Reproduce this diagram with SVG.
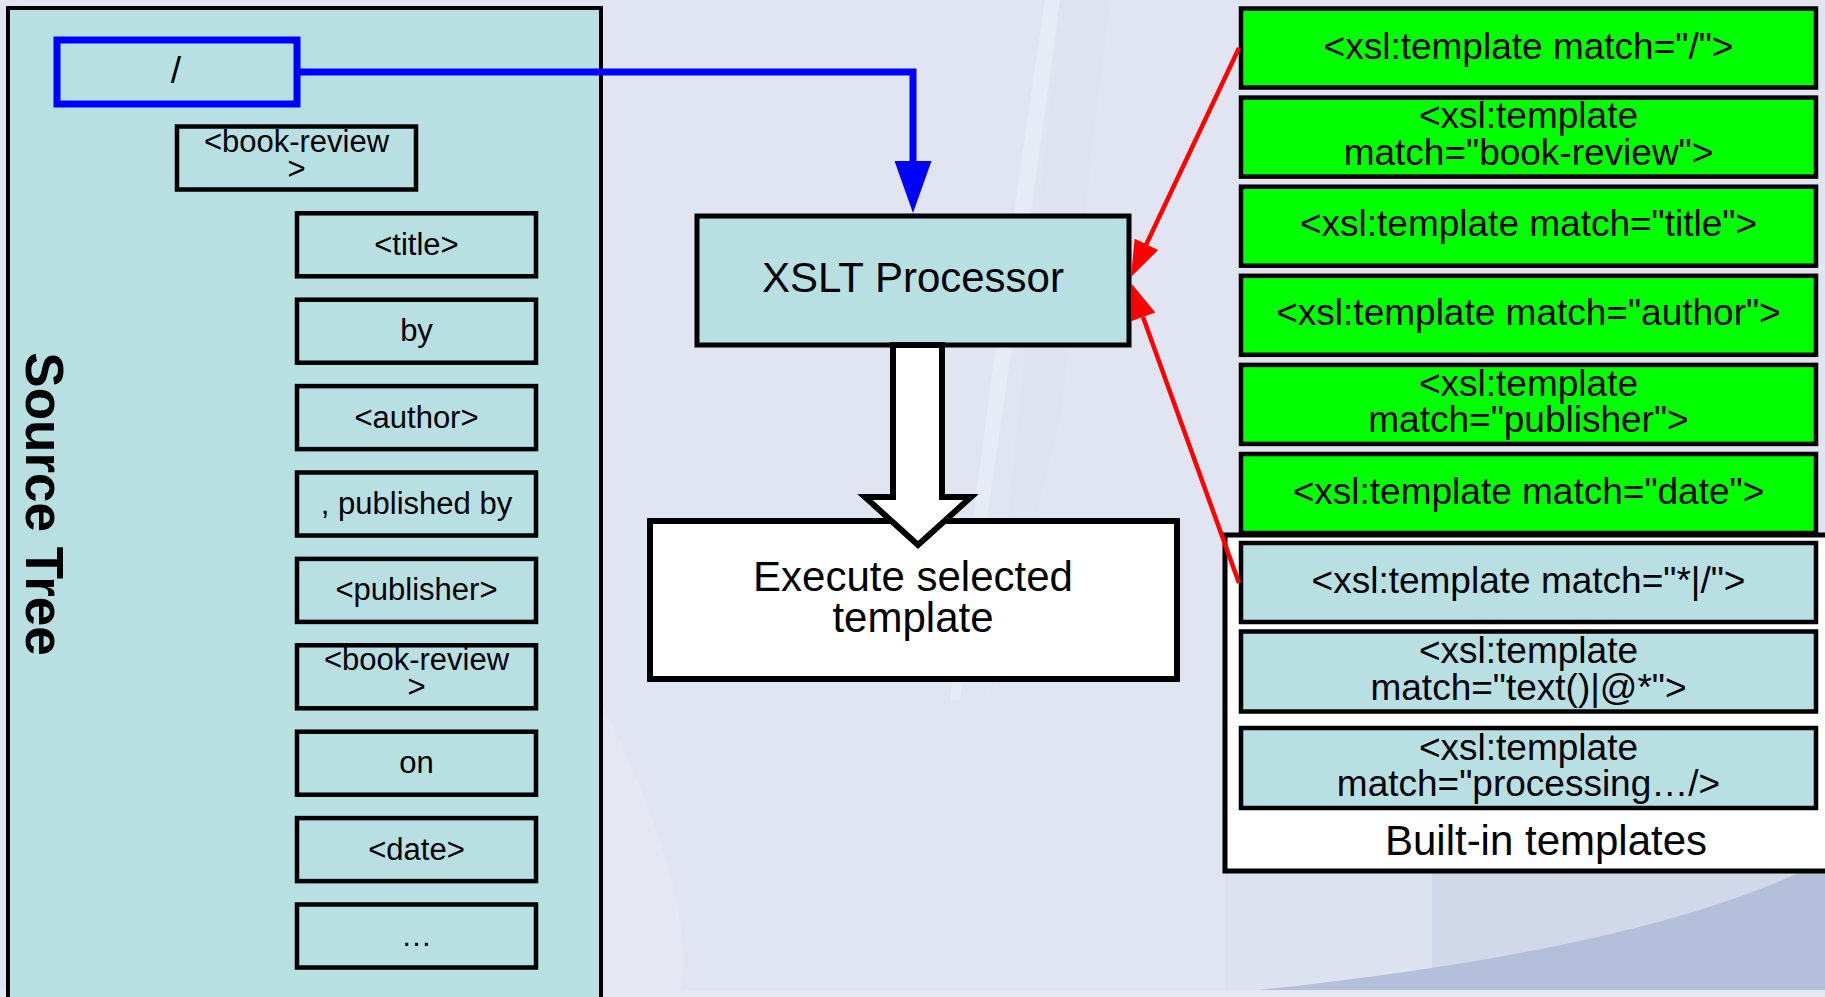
<svg xmlns="http://www.w3.org/2000/svg" width="1825" height="997" viewBox="0 0 1825 997">
<style>
  text { font-family: "Liberation Sans", Arial, sans-serif; fill: #000; }
  .src { fill: #b8dfe2; stroke: #000; stroke-width: 4.5; }
  .grn { fill: #00ff00; stroke: #000; stroke-width: 4.5; }
  .bi { fill: #b8dfe2; stroke: #000; stroke-width: 4.5; }
  .t31 { font-size: 31px; text-anchor: middle; }
  .t37 { font-size: 37px; text-anchor: middle; }
  .t42 { font-size: 42px; text-anchor: middle; }
  .red { stroke: #ff0000; stroke-width: 4.5; fill: none; }
  .redh { fill: #ff0000; }
</style>
<!-- background -->
<g id="background">
  <rect x="0" y="0" width="1825" height="997" fill="#e1e5f1"/>
  <path d="M 1045 0 L 1060 0 Q 1020 300 960 700 L 950 700 Q 1000 300 1045 0 Z" fill="#e9ecf6" opacity="0.8"/>
  <path d="M 1060 0 L 1110 0 L 1060 420 L 990 700 Z" fill="#dce1ef" opacity="0.6"/>
  <path d="M 600 700 Q 700 900 680 997 L 600 997 Z" fill="#e6e9f4" opacity="0.8"/>
  <rect x="1225" y="871" width="207" height="119" fill="#dde2f0"/>
  <rect x="1432" y="871" width="393" height="119" fill="#d1d8ea"/>
  <path d="M 1240 992 C 1500 965 1700 925 1825 860 L 1825 992 Z" fill="#b4bfdb"/>
  <rect x="0" y="990" width="1825" height="7" fill="#e5e8f3"/>
</g>

<!-- source tree panel -->
<g id="source-tree">
  <rect x="8" y="8" width="593" height="1010" fill="#b8dfe2" stroke="#000" stroke-width="4"/>
  <text transform="translate(26,504) rotate(90)" text-anchor="middle" font-size="53" font-weight="bold">Source Tree</text>
</g>

<g id="node-root">
  <rect x="57" y="40" width="240" height="64" fill="#b8dfe2" stroke="#0000ff" stroke-width="7"/>
  <text class="t37" x="176" y="83">/</text>
</g>
<g id="node-book-review-1">
  <rect class="src" x="177" y="126.5" width="239" height="63"/>
  <text class="t31" x="296.5" y="152">&lt;book-review</text>
  <text class="t31" x="296.5" y="179">&gt;</text>
</g>
<g id="node-title">
  <rect class="src" x="297" y="213.3" width="239" height="63"/>
  <text class="t31" x="416.5" y="255">&lt;title&gt;</text>
</g>
<g id="node-by">
  <rect class="src" x="297" y="299.7" width="239" height="63"/>
  <text class="t31" x="416.5" y="341">by</text>
</g>
<g id="node-author">
  <rect class="src" x="297" y="386.1" width="239" height="63"/>
  <text class="t31" x="416.5" y="428">&lt;author&gt;</text>
</g>
<g id="node-published-by">
  <rect class="src" x="297" y="472.5" width="239" height="63"/>
  <text class="t31" x="416.5" y="514">, published by</text>
</g>
<g id="node-publisher">
  <rect class="src" x="297" y="558.9" width="239" height="63"/>
  <text class="t31" x="416.5" y="600">&lt;publisher&gt;</text>
</g>
<g id="node-book-review-2">
  <rect class="src" x="297" y="645.3" width="239" height="63"/>
  <text class="t31" x="416.5" y="670">&lt;book-review</text>
  <text class="t31" x="416.5" y="697">&gt;</text>
</g>
<g id="node-on">
  <rect class="src" x="297" y="731.7" width="239" height="63"/>
  <text class="t31" x="416.5" y="773">on</text>
</g>
<g id="node-date">
  <rect class="src" x="297" y="818.1" width="239" height="63"/>
  <text class="t31" x="416.5" y="860">&lt;date&gt;</text>
</g>
<g id="node-more">
  <rect class="src" x="297" y="904.5" width="239" height="63"/>
  <text class="t31" x="416.5" y="946">…</text>
</g>

<!-- XSLT processor -->
<g id="node-xslt">
  <rect x="697" y="216" width="432" height="129" fill="#b8dfe2" stroke="#000" stroke-width="5"/>
  <text class="t42" x="913" y="292">XSLT Processor</text>
</g>

<!-- Execute selected template -->
<g id="node-execute">
  <rect x="650" y="521" width="527" height="158" fill="#ffffff" stroke="#000" stroke-width="6"/>
  <text class="t42" x="913" y="591">Execute selected</text>
  <text class="t42" x="913" y="632">template</text>
</g>

<!-- built-in container -->
<g id="builtin-container">
  <rect x="1225" y="535" width="700" height="336" fill="#ffffff" stroke="#000" stroke-width="5"/>
  <text class="t42" x="1546" y="855">Built-in templates</text>
</g>

<!-- templates -->
<g id="tpl-root">
  <rect class="grn" x="1241" y="8.5" width="575" height="79"/>
  <text class="t37" x="1528.5" y="59">&lt;xsl:template match="/"&gt;</text>
</g>
<g id="tpl-book-review">
  <rect class="grn" x="1241" y="97.6" width="575" height="79"/>
  <text class="t37" x="1528.5" y="128">&lt;xsl:template</text>
  <text class="t37" x="1528.5" y="165">match="book-review"&gt;</text>
</g>
<g id="tpl-title">
  <rect class="grn" x="1241" y="186.7" width="575" height="79"/>
  <text class="t37" x="1528.5" y="236">&lt;xsl:template match="title"&gt;</text>
</g>
<g id="tpl-author">
  <rect class="grn" x="1241" y="275.8" width="575" height="79"/>
  <text class="t37" x="1528.5" y="325">&lt;xsl:template match="author"&gt;</text>
</g>
<g id="tpl-publisher">
  <rect class="grn" x="1241" y="364.9" width="575" height="79"/>
  <text class="t37" x="1528.5" y="396">&lt;xsl:template</text>
  <text class="t37" x="1528.5" y="432">match="publisher"&gt;</text>
</g>
<g id="tpl-date">
  <rect class="grn" x="1241" y="454" width="575" height="79"/>
  <text class="t37" x="1528.5" y="504">&lt;xsl:template match="date"&gt;</text>
</g>
<g id="tpl-builtin-1">
  <rect class="bi" x="1241" y="543" width="575" height="79"/>
  <text class="t37" x="1528.5" y="593">&lt;xsl:template match="*|/"&gt;</text>
</g>
<g id="tpl-builtin-2">
  <rect class="bi" x="1241" y="631.5" width="575" height="80"/>
  <text class="t37" x="1528.5" y="663">&lt;xsl:template</text>
  <text class="t37" x="1528.5" y="700">match="text()|@*"&gt;</text>
</g>
<g id="tpl-builtin-3">
  <rect class="bi" x="1241" y="728" width="575" height="80"/>
  <text class="t37" x="1528.5" y="760">&lt;xsl:template</text>
  <text class="t37" x="1528.5" y="796">match="processing…/&gt;</text>
</g>

<!-- connectors -->
<g id="connectors">
  <path d="M 300 72 H 913 V 165" fill="none" stroke="#0000ff" stroke-width="7"/>
  <polygon points="894.5,161 931.5,161 913,213" fill="#0000ff"/>
  <polygon points="893,345 942,345 942,497 971,497 918,545 865,497 893,497" fill="#ffffff" stroke="#000" stroke-width="6" stroke-linejoin="miter"/>
  <line class="red" x1="1239" y1="48" x2="1146" y2="245"/>
  <polygon class="redh" points="1131,277 1134.6,238.8 1158.2,250"/>
  <line class="red" x1="1239" y1="583" x2="1143" y2="317"/>
  <polygon class="redh" points="1131,283 1131,321.3 1155.4,312.5"/>
</g>
</svg>
